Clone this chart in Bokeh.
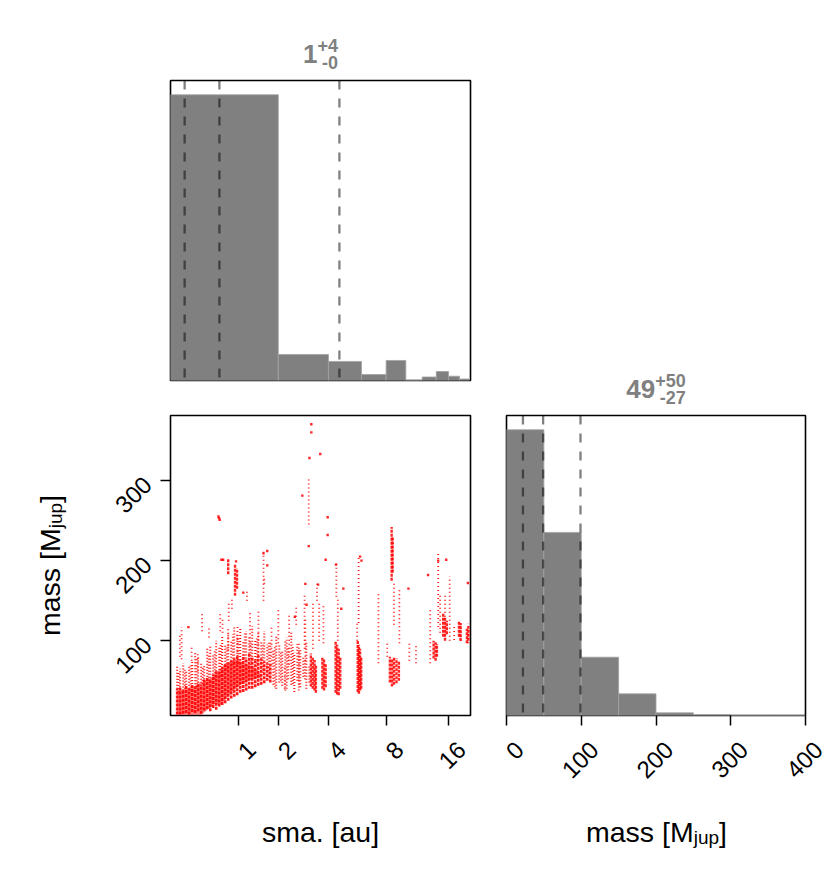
import math
from bokeh.plotting import figure
from bokeh.models import (Range1d, FixedTicker, CustomJSTickFormatter, Span, Label,
                          LabelSet, ColumnDataSource)
from bokeh.layouts import row, column
from bokeh.embed import file_html
from bokeh.resources import INLINE
from bokeh.core.properties import value

# ---------------------------------------------------------------- data
# semi-major axis histogram (linear bins of 2 au, drawn on a pseudo-log axis log10(1+sma))
sma_bin_edges = [0, 2, 4, 6, 8, 10, 12, 14, 16, 18, 20]
sma_counts = [3807, 347, 254, 80, 267, 0, 47, 120, 57, 20]
sma_quantiles = [0.155, 0.646, 4.59]
sma_title = ["1", "+4", "-0"]
sma_ticks = [1, 2, 4, 8, 16]
sma_tick_labels = ["1", "2", "4", "8", "16"]
sma_max = 20.26

# mass histogram
mass_bin_edges = [0, 50, 100, 150, 200, 250, 300, 350, 400]
mass_counts = [2587, 1658, 528, 196, 24, 7, 0, 0]
mass_quantiles = [22, 49, 99]
mass_title = ["49", "+50", "-27"]
mass_ticks = [0, 100, 200, 300, 400]
mass_tick_labels = ["0", "100", "200", "300", "400"]
mass_hist_max = 400

# scatter (sma vs mass)
scatter_mass_ticks = [100, 200, 300]
scatter_mass_min = 6.75
scatter_mass_max = 381.0

# core of the sample cloud (outline, sma [au] / mass [Mjup])
zone_core_sma = [0.07, 0.07, 0.157, 0.238, 0.326, 0.42, 0.518, 0.626, 0.74, 0.862, 0.994, 1.135,
                 1.284, 1.445, 1.528, 1.284, 1.062, 0.928, 0.80, 0.682, 0.572, 0.468, 0.371]
zone_core_mass = [7.6, 37.6, 39.7, 41.7, 45.9, 50.0, 54.2, 62.6, 70.9, 75.1, 75.1, 70.9,
                  68.8, 62.6, 54.2, 52.1, 45.9, 39.7, 31.3, 20.9, 20.9, 14.6, 7.6]

# the cloud read column by column: densely filled mass range, then scattered mass range
cloud_sma = [0.070, 0.103, 0.138, 0.173, 0.209, 0.247, 0.286, 0.326, 0.367, 0.410, 0.454,
             0.499, 0.545, 0.593, 0.643, 0.694, 0.746, 0.801, 0.857, 0.915, 0.973, 1.035,
             1.098, 1.163, 1.230, 1.300, 1.371, 1.445, 1.521, 1.600, 1.680, 1.764]
cloud_dense_lo = [8, 8, 9, 10, 8, 11, 10, 12, 9, 13, 15, 12, 16, 14, 18, 20, 22, 25, 28, 30,
                  32, 35, 36, 38, 40, 40, 42, 44, 45, 47, 50, 48]
cloud_dense_hi = [40, 42, 38, 45, 40, 46, 42, 48, 44, 52, 55, 50, 58, 62, 60, 66, 70, 72, 75,
                  78, 80, 76, 82, 78, 84, 80, 76, 82, 78, 74, 72, 70]
cloud_sparse_sma = [0.070, 0.103, 0.138, 0.173, 0.209, 0.247, 0.286, 0.326, 0.367, 0.410,
                    0.454, 0.499, 0.545, 0.593, 0.643, 0.694, 0.746, 0.801, 0.857, 0.915,
                    0.973, 1.035, 1.098, 1.163, 1.230, 1.300, 1.371, 1.445, 1.521, 1.600,
                    1.680, 1.764, 1.850, 1.938, 2.030, 2.124, 2.221, 2.321, 2.424, 2.531,
                    2.641, 2.754, 2.870, 2.991, 3.115]
cloud_sparse_lo = [40, 42, 38, 45, 40, 46, 42, 48, 44, 52, 55, 50, 58, 62, 60, 66, 70, 72, 75,
                   78, 80, 76, 82, 78, 84, 80, 76, 82, 78, 74, 72, 70, 45, 40, 48, 44, 38, 52,
                   45, 36, 50, 42, 55, 40, 48]
cloud_sparse_hi = [70, 65, 72, 62, 68, 75, 85, 80, 72, 70, 90, 95, 82, 100, 92, 105, 95, 110,
                   100, 117, 108, 115, 100, 112, 105, 118, 100, 110, 98, 112, 95, 100, 90, 105,
                   95, 88, 100, 92, 110, 85, 96, 90, 80, 100, 70]
# extra scattered columns between the ones above
cloud_gap_sma = [0.087, 0.155, 0.228, 0.306, 0.388, 0.476, 0.569, 0.668, 0.773, 0.886, 1.004,
                 1.130, 1.265, 1.408, 1.560, 1.722, 1.894, 2.077, 2.270, 2.477, 2.697, 2.930]
cloud_gap_lo = [36, 40, 38, 42, 46, 50, 52, 56, 64, 70, 72, 74, 70, 68, 60, 55, 42, 50, 40, 46,
                38, 52]
cloud_gap_hi = [60, 66, 70, 78, 68, 84, 88, 96, 92, 108, 104, 110, 98, 104, 96, 100, 92, 86,
                104, 95, 88, 78]

# dense vertical streaks of samples
dense_sma = [3.18, 3.26, 3.34, 3.40, 3.70, 3.78, 3.86, 4.38, 4.46, 4.55, 4.64, 5.74, 5.82, 5.90,
             5.98, 8.35, 8.55, 8.75, 9.00, 9.25, 8.52, 8.62, 13.6, 13.9, 14.1, 15.1, 15.4, 15.7,
             0.93, 0.97, 0.80, 17.9, 18.2, 19.5, 19.8]
dense_lo = [43, 40, 38, 35, 40, 38, 42, 35, 33, 32, 40, 36, 34, 38, 40, 48, 43, 45, 47, 50,
            175, 185, 78, 75, 80, 105, 100, 108, 156, 165, 183, 105, 100, 97, 100]
dense_hi = [84, 80, 76, 70, 80, 78, 72, 100, 95, 90, 80, 100, 95, 90, 80, 80, 78, 80, 78, 75,
            242, 230, 100, 98, 96, 135, 130, 125, 196, 190, 202, 125, 122, 115, 118]

# sparse vertical streaks of samples
sparse_sma = [3.09, 3.27, 3.75, 4.42, 4.50, 5.80, 5.70, 7.32, 8.10, 8.75, 9.30, 10.4, 11.2,
              13.1, 14.3, 14.6, 15.4, 16.2, 17.0, 18.3, 19.8, 1.58, 2.00, 2.60, 2.92, 0.12,
              0.10, 0.38, 0.48, 0.66, 0.70, 0.81, 0.87, 1.18, 1.60, 0.24, 0.32, 0.80, 0.98,
              1.25, 1.45, 1.80, 2.35, 2.95, 3.45, 3.55, 2.20, 2.70]
sparse_lo = [245, 90, 97, 155, 100, 122, 100, 72, 80, 120, 97, 75, 72, 72, 117, 110, 130, 100,
             101, 100, 97, 150, 97, 120, 90, 77, 80, 112, 104, 112, 110, 125, 140, 150, 171, 75,
             62, 88, 71, 88, 80, 70, 70, 75, 150, 100, 40, 45]
sparse_hi = [305, 147, 143, 197, 155, 205, 122, 159, 97, 175, 163, 100, 95, 138, 209, 160, 160,
             180, 117, 125, 122, 213, 138, 143, 160, 117, 110, 133, 117, 133, 130, 150, 152, 162,
             179, 92, 85, 117, 117, 137, 140, 120, 135, 130, 171, 150, 70, 100]

# isolated samples
pts_sma = [3.20, 3.20, 3.12, 3.60, 2.83, 3.96, 3.96, 3.86, 2.95, 3.50, 3.09, 0.63, 0.65, 0.64,
           0.71, 0.68, 1.68, 1.58, 1.68, 4.40, 12.8, 19.7, 6.00, 5.90, 14.3, 15.6, 10.3, 4.82,
           4.70, 2.55, 3.00, 0.95, 0.20, 1.10]
pts_mass = [370, 360, 328, 333, 281, 254, 232, 201, 171, 170, 218, 255, 251, 253, 201, 201,
            212, 209, 194, 195, 182, 172, 200, 205, 200, 201, 165, 165, 140, 130, 145, 199,
            117, 160]

# ---------------------------------------------------------------- helpers
GRAY = "#808080"
RED = "#ff0000"
FONT = "Liberation Sans"
F = 300.0  # panel frame size in px
LOGSPAN = math.log10(sma_max + 1.0)
MID = 0.35  # distance from the text middle to its baseline, in em


def p1(a):
    """pseudo-log axis: the log scale is applied to (1 + sma)"""
    return [v + 1.0 for v in a]


W_REG = {"m": .833, "a": .556, "s": .5, " ": .278, "[": .278, "M": .833, "]": .278,
         "j": .222, "u": .556, "p": .556, ".": .278}
W_BOLD = {"+": .584, "-": .333}


def tw(t, size, bold=False):
    return sum((W_BOLD.get(c, .556) if bold else W_REG.get(c, .556)) for c in t) * size


def base_fig(**kw):
    f = figure(output_backend="svg", toolbar_location=None, **kw)
    f.grid.visible = False
    f.background_fill_color = "white"
    f.border_fill_color = "white"
    return f


def text_fig(w, h, x_range=None, log=False):
    f = base_fig(width=w, height=h, min_border=0, min_border_left=0, min_border_right=0,
                 min_border_top=0, min_border_bottom=0, frame_align=False,
                 x_range=x_range or Range1d(0, w), y_range=Range1d(0, h),
                 x_axis_type="log" if log else "linear",
                 x_axis_location=None, y_axis_location=None)
    f.outline_line_color = None
    return f


def panel_style(f):
    f.outline_line_color = "black"
    f.outline_line_width = 1.6


def style_axis(ax):
    ax.axis_line_color = None
    ax.major_tick_line_color = "black"
    ax.major_tick_line_width = 1.5
    ax.major_tick_out = 10
    ax.major_tick_in = 0
    ax.minor_tick_line_color = None
    ax.major_label_text_font = FONT
    ax.major_label_text_font_size = "24px"
    ax.major_label_text_color = "black"


def hide_labels(ax):
    ax.formatter = CustomJSTickFormatter(code="return ''")
    ax.major_label_text_font_size = "0px"
    ax.major_label_standoff = 0


def add_title(f, cx, parts):
    main, sup, sub = parts
    wm = tw(main, 26, True)
    ws = max(tw(sup, 18, True), tw(sub, 18, True))
    x0 = cx - (wm + ws) / 2
    common = dict(text_font=FONT, text_font_style="bold", text_color=GRAY,
                  text_baseline="middle")
    f.add_layout(Label(x=x0, y=15.5 + MID * 26, text=main, text_font_size="26px",
                       text_align="left", **common))
    f.add_layout(Label(x=x0 + wm + ws, y=26.5 + MID * 18, text=sup, text_font_size="18px",
                       text_align="right", **common))
    f.add_layout(Label(x=x0 + wm + ws, y=9.5 + MID * 18, text=sub, text_font_size="18px",
                       text_align="right", **common))


def tick_labels(f, xs, labels, y):
    src = ColumnDataSource(dict(x=xs, y=[y] * len(xs), text=labels))
    f.add_layout(LabelSet(x="x", y="y", text="text", source=src, x_offset=13,
                          angle=math.pi / 4, text_align="right", text_baseline="middle",
                          text_font=value(FONT), text_font_size=value("24px"),
                          text_color="black"))


def axis_label(f, xmap, center, base, parts, vertical=False):
    # parts: (text, size, baseline shift downwards); base = baseline position
    widths = [tw(t, s) for t, s, _ in parts]
    pos = center - sum(widths) / 2
    for (t, s, dy), w in zip(parts, widths):
        if vertical:
            lab = Label(x=base + dy - MID * s, y=pos, angle=math.pi / 2, text=t)
        else:
            lab = Label(x=xmap(pos), y=base - dy + MID * s, text=t)
        lab.text_font = FONT
        lab.text_font_size = f"{s}px"
        lab.text_color = "black"
        lab.text_align = "left"
        lab.text_baseline = "middle"
        f.add_layout(lab)
        pos += w


MASS_LABEL = [("mass [M", 28.5, 0), ("jup", 19, 2), ("]", 28.5, 0)]

# ---------------------------------------------------------------- left column
t1 = text_fig(474, 78)
add_title(t1, 320, sma_title)

sma_ymax = max(sma_counts) * 1.05
h1 = base_fig(width=474, height=304, min_border_left=170, min_border_right=4,
              min_border_top=2, min_border_bottom=2, x_axis_type="log",
              x_range=Range1d(1, sma_max + 1), y_range=Range1d(0, sma_ymax),
              x_axis_location=None, y_axis_location=None)
panel_style(h1)
h1.quad(left=p1(sma_bin_edges[:-1]), right=p1(sma_bin_edges[1:]), bottom=0, top=sma_counts,
        fill_color=GRAY, line_color="#a2a2a2", line_width=0.8)
for q in sma_quantiles:
    h1.add_layout(Span(location=q + 1, dimension="height", line_color="black", line_alpha=0.5,
                       line_width=2.3, line_dash="9 9"))

yl = text_fig(80, 345)
axis_label(yl, None, 162, 59.5, MASS_LABEL, vertical=True)

sc = base_fig(width=394, height=345, min_border_left=90, min_border_right=4,
              min_border_top=33, min_border_bottom=12, x_axis_type="log",
              x_range=h1.x_range, y_range=Range1d(scatter_mass_min, scatter_mass_max))
panel_style(sc)
style_axis(sc.xaxis[0])
style_axis(sc.yaxis[0])
sc.xaxis.ticker = FixedTicker(ticks=p1(sma_ticks))
hide_labels(sc.xaxis[0])
sc.yaxis.ticker = FixedTicker(ticks=scatter_mass_ticks)
sc.yaxis.major_label_orientation = math.pi / 4
sc.yaxis.major_label_standoff = 13

sc.patch(p1(zone_core_sma), zone_core_mass, fill_color=RED, fill_alpha=0.5, line_color=None)
sc.segment(x0=p1(cloud_sparse_sma), y0=cloud_sparse_lo, x1=p1(cloud_sparse_sma),
           y1=cloud_sparse_hi, line_color=RED, line_alpha=0.95, line_width=2.0, line_dash="1 2")
sc.segment(x0=p1(cloud_gap_sma), y0=cloud_gap_lo, x1=p1(cloud_gap_sma), y1=cloud_gap_hi,
           line_color=RED, line_alpha=0.85, line_width=1.8, line_dash="1 2")
sc.segment(x0=p1(cloud_sma), y0=cloud_dense_lo, x1=p1(cloud_sma), y1=cloud_dense_hi,
           line_color=RED, line_alpha=0.9, line_width=2.6, line_dash="3 1")
sc.segment(x0=p1(sparse_sma), y0=sparse_lo, x1=p1(sparse_sma), y1=sparse_hi, line_color=RED,
           line_alpha=0.9, line_width=1.8, line_dash="1 3")
sc.segment(x0=p1(dense_sma), y0=dense_lo, x1=p1(dense_sma), y1=dense_hi, line_color=RED,
           line_alpha=0.85, line_width=2.4, line_dash="3 1")
sc.scatter(p1(pts_sma), pts_mass, marker="square", size=2.4, fill_color=RED, fill_alpha=0.85,
           line_color=None)

xl1 = text_fig(474, 141, log=True,
               x_range=Range1d(10 ** (-170 / F * LOGSPAN), 10 ** (304 / F * LOGSPAN)))
tick_labels(xl1, p1(sma_ticks), sma_tick_labels, 123)
axis_label(xl1, lambda px: 10 ** ((px - 170) / F * LOGSPAN), 320, 26.5,
           [("sma. [au]", 28.5, 0)])

left = column(t1, h1, row(yl, sc), xl1)

# ---------------------------------------------------------------- right column
t2 = text_fig(356, 413)
add_title(t2, 181.5, mass_title)

mass_ymax = max(mass_counts) * 1.05
mh = base_fig(width=356, height=314, min_border_left=32, min_border_right=25,
              min_border_top=2, min_border_bottom=12,
              x_range=Range1d(0, mass_hist_max), y_range=Range1d(0, mass_ymax),
              y_axis_location=None)
panel_style(mh)
style_axis(mh.xaxis[0])
mh.xaxis.ticker = FixedTicker(ticks=mass_ticks)
hide_labels(mh.xaxis[0])
mh.quad(left=mass_bin_edges[:-1], right=mass_bin_edges[1:], bottom=0, top=mass_counts,
        fill_color=GRAY, line_color="#a2a2a2", line_width=0.8)
for q in mass_quantiles:
    mh.add_layout(Span(location=q, dimension="height", line_color="black", line_alpha=0.5,
                       line_width=2.3, line_dash="9 9"))

MPX = mass_hist_max / 299.0
xl2 = text_fig(356, 141, x_range=Range1d(-32 * MPX, mass_hist_max + 25 * MPX))
tick_labels(xl2, mass_ticks, mass_tick_labels, 123)
axis_label(xl2, lambda px: (px - 32) * MPX, 182, 26.5, MASS_LABEL)

right = column(t2, mh, xl2)

layout = row(left, right)
open("out.html", "w").write(file_html(layout, INLINE))
